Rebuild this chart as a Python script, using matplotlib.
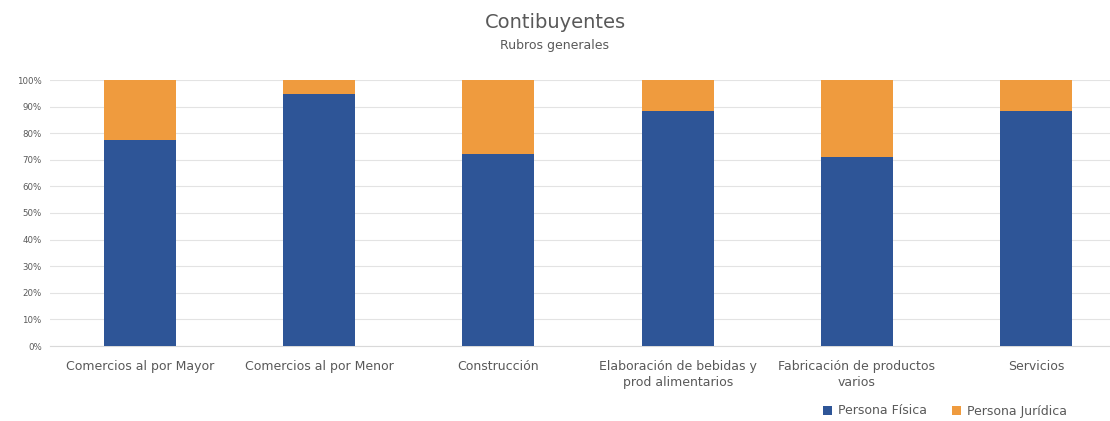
import numpy as np
import matplotlib.pyplot as plt

rubros = ["Comercios al por Mayor", "Comercios al por Menor", "Construcción",
          "Elaboración de bebidas y\nprod alimentarios",
          "Fabricación de productos\nvarios", "Servicios"]
fisica = [77.6, 94.6, 72.0, 88.3, 71.1, 88.3]
juridica = [100 - v for v in fisica]
yticks = list(range(0, 101, 10))

azul = '#2E5597'
naranja = '#EF9B3E'
gris = '#595959'

plt.rcParams['font.family'] = ['DejaVu Sans']

fig = plt.figure(figsize=(11.1, 4.21), dpi=100)
ax = fig.add_axes([50 / 1110, 75 / 421, 1076 / 1110, 266 / 421])

x = np.arange(len(rubros))
ax.bar(x, fisica, width=0.4, color=azul, label='Persona Física', zorder=3)
ax.bar(x, juridica, width=0.4, bottom=fisica, color=naranja, label='Persona Jurídica', zorder=3)

ax.set_xlim(-0.5, len(rubros) - 0.5)
ax.set_ylim(0, 100)
ax.set_yticks(yticks)
ax.set_yticklabels([f"{t}%" for t in yticks], fontsize=6.2, color=gris)
ax.set_xticks(x)
ax.set_xticklabels(rubros, fontsize=9, color=gris, linespacing=1.3)
ax.tick_params(axis='x', length=0, pad=10)
ax.tick_params(axis='y', length=0, pad=6)
ax.grid(axis='y', color='#E3E3E3', linewidth=0.8, zorder=0)
for s in ['top', 'right', 'left']:
    ax.spines[s].set_visible(False)
ax.spines['bottom'].set_color('#D9D9D9')

fig.text(0.5, 1 - 23 / 421, 'Contibuyentes', ha='center', va='center', fontsize=14, color=gris)
fig.text(0.5, 1 - 45 / 421, 'Rubros generales', ha='center', va='center', fontsize=9, color=gris)

fig.legend(loc='center left', bbox_to_anchor=(812 / 1110, 1 - 411 / 421), ncol=2, frameon=False,
           fontsize=9, handlelength=0.7, handleheight=0.7, handletextpad=0.5,
           columnspacing=2.0, labelcolor=gris)

fig.savefig('out.png', dpi=100)
